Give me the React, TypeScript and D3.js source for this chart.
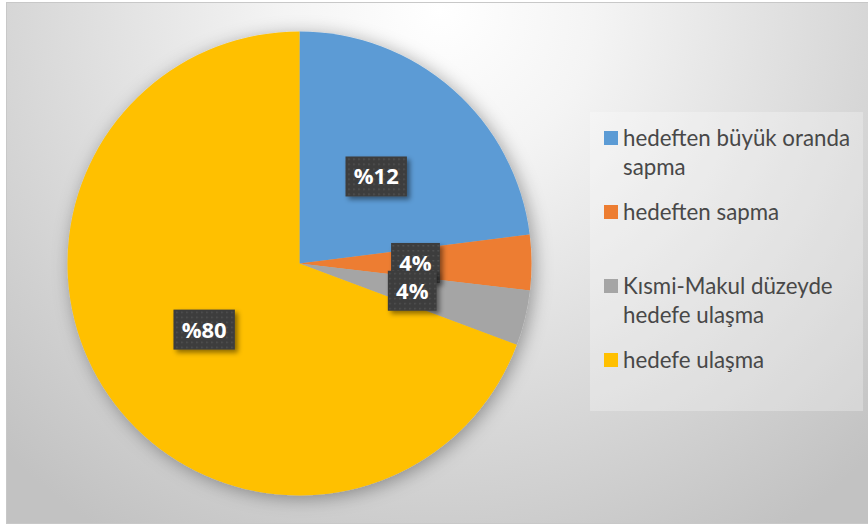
import React from 'react';
import * as d3 from 'd3';

const categories = [
  'hedeften büyük oranda sapma',
  'hedeften sapma',
  'Kısmi-Makul düzeyde hedefe ulaşma',
  'hedefe ulaşma',
];
const legendLines = [
  ['hedeften büyük oranda', 'sapma'],
  ['hedeften sapma'],
  ['Kısmi-Makul düzeyde', 'hedefe ulaşma'],
  ['hedefe ulaşma'],
];
const values = [23.0, 3.85, 3.85, 69.3];
const dataLabels = ['%12', '4%', '4%', '%80'];
const colors = ['#5B9BD5', '#ED7D31', '#A5A5A5', '#FFC000'];

const W = 868;
const H = 526;
const cx = 299.5;
const cy = 263.5;
const R = 232;

function textWidth(s: string, fs: number) {
  let w = 0;
  for (const ch of s) {
    if (ch === '%') w += 0.83 * fs;
    else w += 0.572 * fs;
  }
  return w;
}

export default function App() {
  const pie = d3
    .pie<number>()
    .sort(null)
    .value((d) => d)
    .startAngle(0)
    .endAngle(2 * Math.PI);
  const arcs = pie(values);
  const arc = d3.arc<d3.PieArcDatum<number>>().innerRadius(0).outerRadius(R);

  const labelFs = 22;
  const boxH = 40;
  const legendX = 604;
  const legendY0 = 138;
  const legendStep = 74;
  const legendLineH = 28.5;

  return (
    <svg
      width={W}
      height={H}
      style={{ position: 'absolute', left: 0, top: 0 }}
      xmlns="http://www.w3.org/2000/svg"
    >
      <defs>
        <radialGradient id="bg" gradientUnits="userSpaceOnUse" cx={440} cy={10} r={620}>
          <stop offset="0" stopColor="#ffffff" />
          <stop offset="0.25" stopColor="#f4f4f4" />
          <stop offset="1" stopColor="#c2c2c2" />
        </radialGradient>
        <filter id="pieShadow" x="-20%" y="-20%" width="140%" height="140%">
          <feDropShadow dx="3" dy="3" stdDeviation="9" floodColor="#000" floodOpacity="0.35" />
        </filter>
        <filter id="boxShadow" x="-30%" y="-30%" width="160%" height="160%">
          <feDropShadow dx="3" dy="3" stdDeviation="2.5" floodColor="#000" floodOpacity="0.45" />
        </filter>
        <pattern id="dots" width="5" height="5" patternUnits="userSpaceOnUse">
          <rect width="5" height="5" fill="#3d3d3d" />
          <rect x="2" y="2" width="1.5" height="1.5" fill="#555555" />
        </pattern>
      </defs>

      <rect x={0} y={0} width={W} height={H} fill="#ffffff" />
      <rect x={6.5} y={2.5} width={W} height={521} fill="url(#bg)" stroke="#c8c8c8" strokeWidth={1} />

      <g transform={`translate(${cx},${cy})`}>
        <g filter="url(#pieShadow)">
          {arcs.map((a, i) => (
            <path key={categories[i]} d={arc(a) || ''} fill={colors[i]} />
          ))}
        </g>
        {arcs.map((a, i) => {
          const [lx, ly] = arc.centroid(a);
          const tw = textWidth(dataLabels[i], labelFs);
          const bw = tw + 18;
          return (
            <g key={'lbl' + i} transform={`translate(${lx},${ly})`}>
              <rect
                x={-bw / 2}
                y={-boxH / 2}
                width={bw}
                height={boxH}
                fill="url(#dots)"
                filter="url(#boxShadow)"
              />
              <text
                x={0}
                y={0}
                dy="0.36em"
                textAnchor="middle"
                fontFamily="'Open Sans', sans-serif"
                fontWeight={700}
                fontSize={labelFs}
                fill="#ffffff"
              >
                {dataLabels[i]}
              </text>
            </g>
          );
        })}
      </g>

      <rect x={590} y={112} width={273} height={299} fill="#ffffff" fillOpacity={0.28} />
      {legendLines.map((lines, i) => {
        const y = legendY0 + i * legendStep;
        return (
          <g key={'leg' + i}>
            <rect x={legendX} y={y - 7} width={14} height={14} fill={colors[i]} />
            {lines.map((ln, j) => (
              <text
                key={j}
                x={623}
                y={y + j * legendLineH}
                dy="0.36em"
                fontFamily="Lato, sans-serif"
                fontSize={22.3}
                fill="#484848"
              >
                {ln}
              </text>
            ))}
          </g>
        );
      })}
    </svg>
  );
}
